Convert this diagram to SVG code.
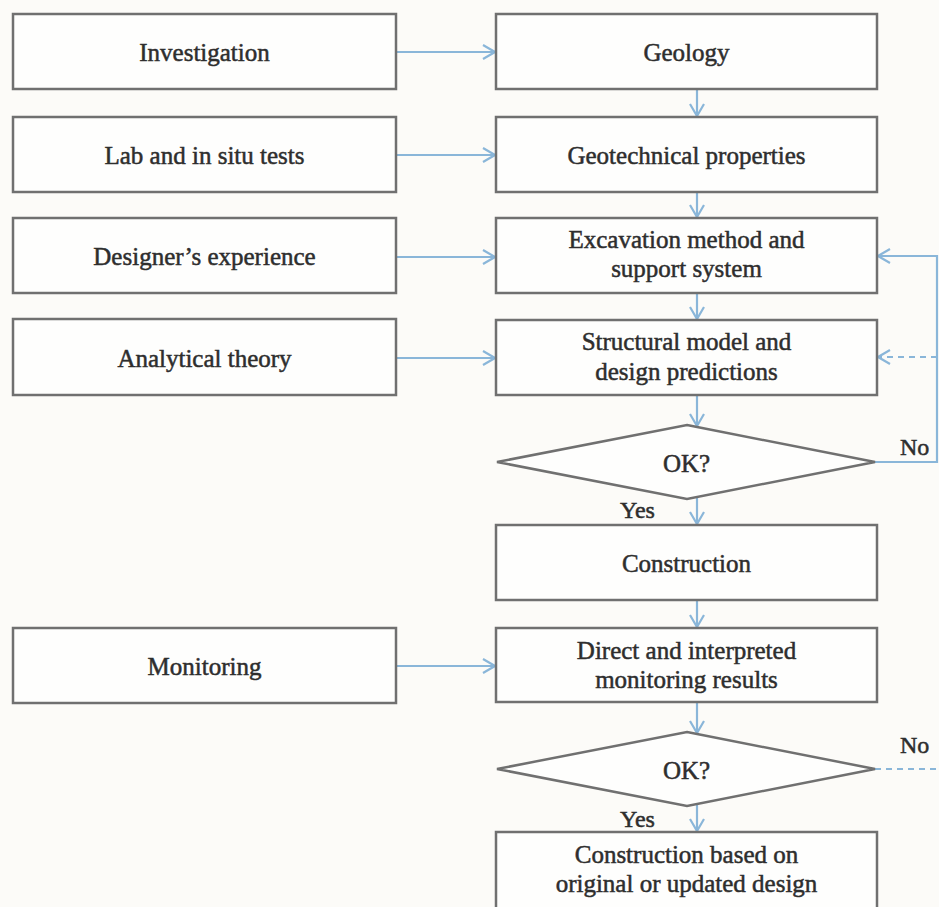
<svg xmlns="http://www.w3.org/2000/svg" width="939" height="907" viewBox="0 0 939 907">
<style>
.box{fill:#fefefd;stroke:#707070;stroke-width:2.5}
.t{font-family:"Liberation Serif","Times New Roman",serif;font-size:25px;fill:#2e2e2e;stroke:#2e2e2e;stroke-width:0.5;text-anchor:middle}
.lbl{font-family:"Liberation Serif","Times New Roman",serif;font-size:24px;fill:#2e2e2e;stroke:#2e2e2e;stroke-width:0.5}
.c{fill:none;stroke:#8ab6d9;stroke-width:2.2}
.d{stroke-dasharray:6 5}
</style>
<defs>
<marker id="ah" viewBox="0 0 14 16" refX="13" refY="8" markerWidth="14" markerHeight="16" markerUnits="userSpaceOnUse" orient="auto">
<path d="M1 1 L13 8 L1 15" fill="none" stroke="#8ab6d9" stroke-width="2.2"/>
</marker>
</defs>
<rect width="939" height="907" fill="#fcfbf8"/>

<g id="connectors">
<line class="c" x1="397" y1="52" x2="495" y2="52" marker-end="url(#ah)"/>
<line class="c" x1="397" y1="155" x2="495" y2="155" marker-end="url(#ah)"/>
<line class="c" x1="397" y1="257" x2="495" y2="257" marker-end="url(#ah)"/>
<line class="c" x1="397" y1="358" x2="495" y2="358" marker-end="url(#ah)"/>
<line class="c" x1="397" y1="666" x2="495" y2="666" marker-end="url(#ah)"/>
<line class="c" x1="697" y1="89" x2="697" y2="116" marker-end="url(#ah)"/>
<line class="c" x1="697" y1="192" x2="697" y2="217" marker-end="url(#ah)"/>
<line class="c" x1="697" y1="293" x2="697" y2="319" marker-end="url(#ah)"/>
<line class="c" x1="697" y1="395" x2="697" y2="426" marker-end="url(#ah)"/>
<line class="c" x1="697" y1="498" x2="697" y2="524" marker-end="url(#ah)"/>
<line class="c" x1="697" y1="600" x2="697" y2="627" marker-end="url(#ah)"/>
<line class="c" x1="697" y1="702" x2="697" y2="733" marker-end="url(#ah)"/>
<line class="c" x1="697" y1="803" x2="697" y2="831" marker-end="url(#ah)"/>
<polyline class="c" points="875,462 937,462 937,256 878,256" marker-end="url(#ah)"/>
<line class="c d" x1="937" y1="357" x2="878" y2="357" marker-end="url(#ah)"/>
<line class="c d" x1="875" y1="769" x2="939" y2="769"/>
</g>

<g id="investigation"><rect class="box" x="13" y="14" width="383" height="75"/><text class="t" x="204.5" y="61">Investigation</text></g>
<g id="lab-tests"><rect class="box" x="13" y="117" width="383" height="75"/><text class="t" x="204.5" y="164">Lab and in situ tests</text></g>
<g id="designer-experience"><rect class="box" x="13" y="218" width="383" height="75"/><text class="t" x="204.5" y="265">Designer’s experience</text></g>
<g id="analytical-theory"><rect class="box" x="13" y="319" width="383" height="76"/><text class="t" x="204.5" y="367">Analytical theory</text></g>
<g id="monitoring"><rect class="box" x="13" y="628" width="383" height="75"/><text class="t" x="204.5" y="675">Monitoring</text></g>

<g id="geology"><rect class="box" x="496" y="14" width="381" height="75"/><text class="t" x="686.5" y="61">Geology</text></g>
<g id="geotechnical-properties"><rect class="box" x="496" y="117" width="381" height="75"/><text class="t" x="686.5" y="164">Geotechnical properties</text></g>
<g id="excavation-method"><rect class="box" x="496" y="218" width="381" height="75"/><text class="t" x="686.5" y="248">Excavation method and</text><text class="t" x="686.5" y="277">support system</text></g>
<g id="structural-model"><rect class="box" x="496" y="320" width="381" height="75"/><text class="t" x="686.5" y="350">Structural model and</text><text class="t" x="686.5" y="380">design predictions</text></g>
<g id="decision-1"><polygon class="box" points="687,425 875,462 687,499 497,462"/><text class="t" x="686.5" y="472">OK?</text></g>
<g id="construction"><rect class="box" x="496" y="525" width="381" height="75"/><text class="t" x="686.5" y="572">Construction</text></g>
<g id="monitoring-results"><rect class="box" x="496" y="628" width="381" height="74"/><text class="t" x="686.5" y="659">Direct and interpreted</text><text class="t" x="686.5" y="688">monitoring results</text></g>
<g id="decision-2"><polygon class="box" points="687,732 875,769 687,806 497,769"/><text class="t" x="686.5" y="779">OK?</text></g>
<g id="final-construction"><rect class="box" x="496" y="832" width="381" height="90"/><text class="t" x="686.5" y="863">Construction based on</text><text class="t" x="686.5" y="892">original or updated design</text></g>

<g id="labels">
<text class="lbl" x="900" y="455">No</text>
<text class="lbl" x="900" y="753">No</text>
<text class="lbl" x="620" y="518">Yes</text>
<text class="lbl" x="620" y="827">Yes</text>
</g>
</svg>
